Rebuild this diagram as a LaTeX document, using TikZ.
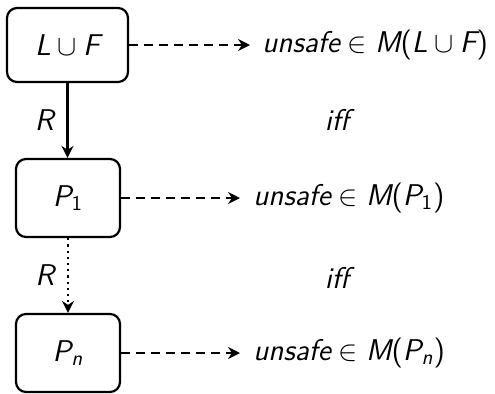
\documentclass[tikz,border=0pt]{standalone}
\usepackage{amsmath}
\usetikzlibrary{arrows.meta}
\newcommand\vv[1]{\text{\sffamily\itshape #1}}
\newcommand\uu[1]{\text{\sffamily\upshape #1}}
\begin{document}
\begin{tikzpicture}[x=0.5pt,y=-0.5pt,
  font=\fontsize{15}{18}\selectfont\sffamily,
  box/.style={draw,line width=1.1pt,rounded corners=5pt,inner sep=0pt},
  lbl/.style={inner sep=0pt,anchor=west},
  conn/.style={line width=1.1pt,-{Stealth[length=6pt,width=6pt,inset=2pt]}}]
\useasboundingbox (0,0) rectangle (495,393);
\node[box,minimum width=60.5pt,minimum height=37pt] (b1) at (67.5,45) {$\vv{L}\cup\vv{F}$};
\node[box,minimum width=52pt,minimum height=39pt] (b2) at (68,198) {$\vv{P}_{\uu{1}}$};
\node[box,minimum width=52pt,minimum height=39pt] (b3) at (68,353) {$\vv{P}_{\vv{n}}$};
\node[lbl] (t1) at (262,45) {$\vv{unsafe}\in\vv{M}\uu{(}\vv{L}\cup\vv{F}\uu{)}$};
\node[lbl] (t2) at (253,198) {$\vv{unsafe}\in\vv{M}\uu{(}\vv{P}_{\uu{1}}\uu{)}$};
\node[lbl] (t3) at (253,353) {$\vv{unsafe}\in\vv{M}\uu{(}\vv{P}_{\vv{n}}\uu{)}$};
\node (i1) at (337,120) {\itshape iff};
\node (i2) at (337,278) {\itshape iff};
\draw[conn] (b1.south) -- node[left=3pt] {\itshape R} (b1.south|-b2.north);
\draw[conn,dotted] (b2.south) -- node[left=3pt] {\itshape R} (b3.north);
\draw[conn,dash pattern=on 4.5pt off 3pt] (b1.east) -- ([xshift=-6pt]t1.west);
\draw[conn,dash pattern=on 4.5pt off 3pt] (b2.east) -- ([xshift=-6.5pt]t2.west);
\draw[conn,dash pattern=on 4.5pt off 3pt] (b3.east) -- ([xshift=-6.5pt]t3.west);
\end{tikzpicture}
\end{document}
